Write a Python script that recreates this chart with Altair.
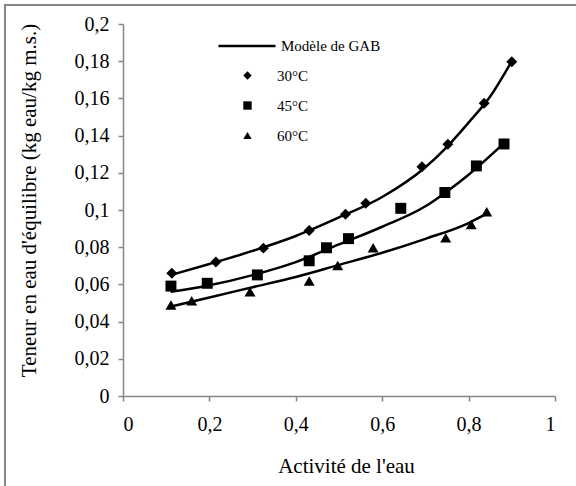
import altair as alt
import pandas as pd

# Experimental points (water activity, equilibrium moisture content)
aw_30 = [0.113, 0.215, 0.325, 0.431, 0.515, 0.562, 0.692, 0.752, 0.836, 0.900]
x_30 = [0.066, 0.072, 0.0795, 0.089, 0.0977, 0.1036, 0.1233, 0.1354, 0.1574, 0.1797]
aw_45 = [0.111, 0.195, 0.311, 0.431, 0.471, 0.522, 0.643, 0.745, 0.818, 0.882]
x_45 = [0.0591, 0.0606, 0.0651, 0.0727, 0.0797, 0.0846, 0.1009, 0.1094, 0.1237, 0.1355]
aw_60 = [0.111, 0.159, 0.294, 0.431, 0.497, 0.579, 0.747, 0.806, 0.842]
x_60 = [0.0489, 0.0512, 0.0561, 0.0618, 0.0702, 0.0797, 0.0851, 0.0922, 0.0990]

# GAB model curves
gab_aw_30 = [0.11, 0.2, 0.3, 0.4, 0.5, 0.6, 0.7, 0.75, 0.8, 0.85, 0.9]
gab_x_30 = [0.065, 0.071, 0.078, 0.086, 0.096, 0.107, 0.123, 0.134, 0.147, 0.161, 0.180]
gab_aw_45 = [0.11, 0.2, 0.3, 0.4, 0.5, 0.6, 0.7, 0.75, 0.8, 0.882]
gab_x_45 = [0.056, 0.0595, 0.065, 0.072, 0.0815, 0.091, 0.102, 0.110, 0.119, 0.136]
gab_aw_60 = [0.11, 0.2, 0.3, 0.4, 0.5, 0.6, 0.7, 0.8, 0.842]
gab_x_60 = [0.048, 0.053, 0.0585, 0.064, 0.0705, 0.077, 0.0845, 0.093, 0.098]

series = ["30°C", "45°C", "60°C"]
model_name = "Modèle de GAB"

pts = pd.DataFrame(
    [(a, v, series[0]) for a, v in zip(aw_30, x_30)]
    + [(a, v, series[1]) for a, v in zip(aw_45, x_45)]
    + [(a, v, series[2]) for a, v in zip(aw_60, x_60)],
    columns=["aw", "X", "serie"],
)
curves = pd.DataFrame(
    [(a, v, series[0]) for a, v in zip(gab_aw_30, gab_x_30)]
    + [(a, v, series[1]) for a, v in zip(gab_aw_45, gab_x_45)]
    + [(a, v, series[2]) for a, v in zip(gab_aw_60, gab_x_60)],
    columns=["aw", "X", "serie"],
)
curves["model"] = model_name

FONT = "Liberation Serif"
GRAY = "#868686"

xs = alt.X(
    "aw:Q",
    scale=alt.Scale(domain=[0, 1], nice=False),
    axis=alt.Axis(
        title="Activité de l'eau",
        values=[0, 0.2, 0.4, 0.6, 0.8, 1],
        format=".1~f",
        labelExpr="replace(datum.label, '.', ',')",
        titlePadding=21,
        labelPadding=13,
        titleX=223,
    ),
)
ys = alt.Y(
    "X:Q",
    scale=alt.Scale(domain=[0, 0.2], nice=False),
    axis=alt.Axis(
        title="Teneur en eau d'équilibre (kg eau/kg m.s.)",
        values=[0, 0.02, 0.04, 0.06, 0.08, 0.1, 0.12, 0.14, 0.16, 0.18, 0.2],
        format=".2~f",
        labelExpr="replace(datum.label, '.', ',')",
        titlePadding=35,
        labelPadding=9,
        titleY=176,
    ),
)

lines = alt.Chart(curves).mark_line(
    color="black", strokeWidth=2.5, interpolate="monotone"
).encode(
    x=xs,
    y=ys,
    detail="serie:N",
    color=alt.Color(
        "model:N",
        scale=alt.Scale(domain=[model_name], range=["black"]),
        legend=alt.Legend(
            title=None,
            orient="none",
            legendX=94,
            legendY=-8,
            symbolType="stroke",
            symbolSize=3249,
            symbolStrokeWidth=2.5,
            symbolStrokeColor="black",
            labelFont=FONT,
            labelFontSize=15,
            labelOffset=4,
            padding=0,
        ),
    ),
)

points = alt.Chart(pts).mark_point(
    filled=True, color="black", opacity=1, size=120
).encode(
    x=xs,
    y=ys,
    shape=alt.Shape(
        "serie:N",
        scale=alt.Scale(domain=series, range=["diamond", "square", "triangle-up"]),
        legend=alt.Legend(
            title=None,
            orient="none",
            legendX=117,
            legendY=44,
            symbolSize=70,
            symbolFillColor="black",
            symbolStrokeColor="black",
            labelFont=FONT,
            labelFontSize=15,
            labelOffset=22,
            rowPadding=14,
            padding=0,
        ),
    ),
)

frame_left = alt.Chart(pts).mark_rule(color=GRAY, strokeWidth=2).encode(
    x=alt.value(-118), y=alt.value(-19), y2=alt.value(470)
)
frame_top = alt.Chart(pts).mark_rule(color=GRAY, strokeWidth=2).encode(
    x=alt.value(-119), x2=alt.value(460), y=alt.value(-19)
)

chart = (
    alt.layer(frame_left, frame_top, lines, points)
    .properties(
        width=432,
        height=372,
        autosize=alt.AutoSizeParams(type="none"),
        padding={"left": 123, "top": 24, "right": 21, "bottom": 90},
    )
    .configure_view(stroke=None)
    .configure_axis(
        grid=False,
        domainColor=GRAY,
        tickColor=GRAY,
        domainWidth=1.5,
        tickWidth=1.5,
        tickSize=5,
        labelFont=FONT,
        labelFontSize=20,
        labelColor="black",
        titleFont=FONT,
        titleFontSize=21,
        titleFontWeight="normal",
        titleColor="black",
    )
)

chart.save("out.html", embed_options={"renderer": "svg", "actions": False})
